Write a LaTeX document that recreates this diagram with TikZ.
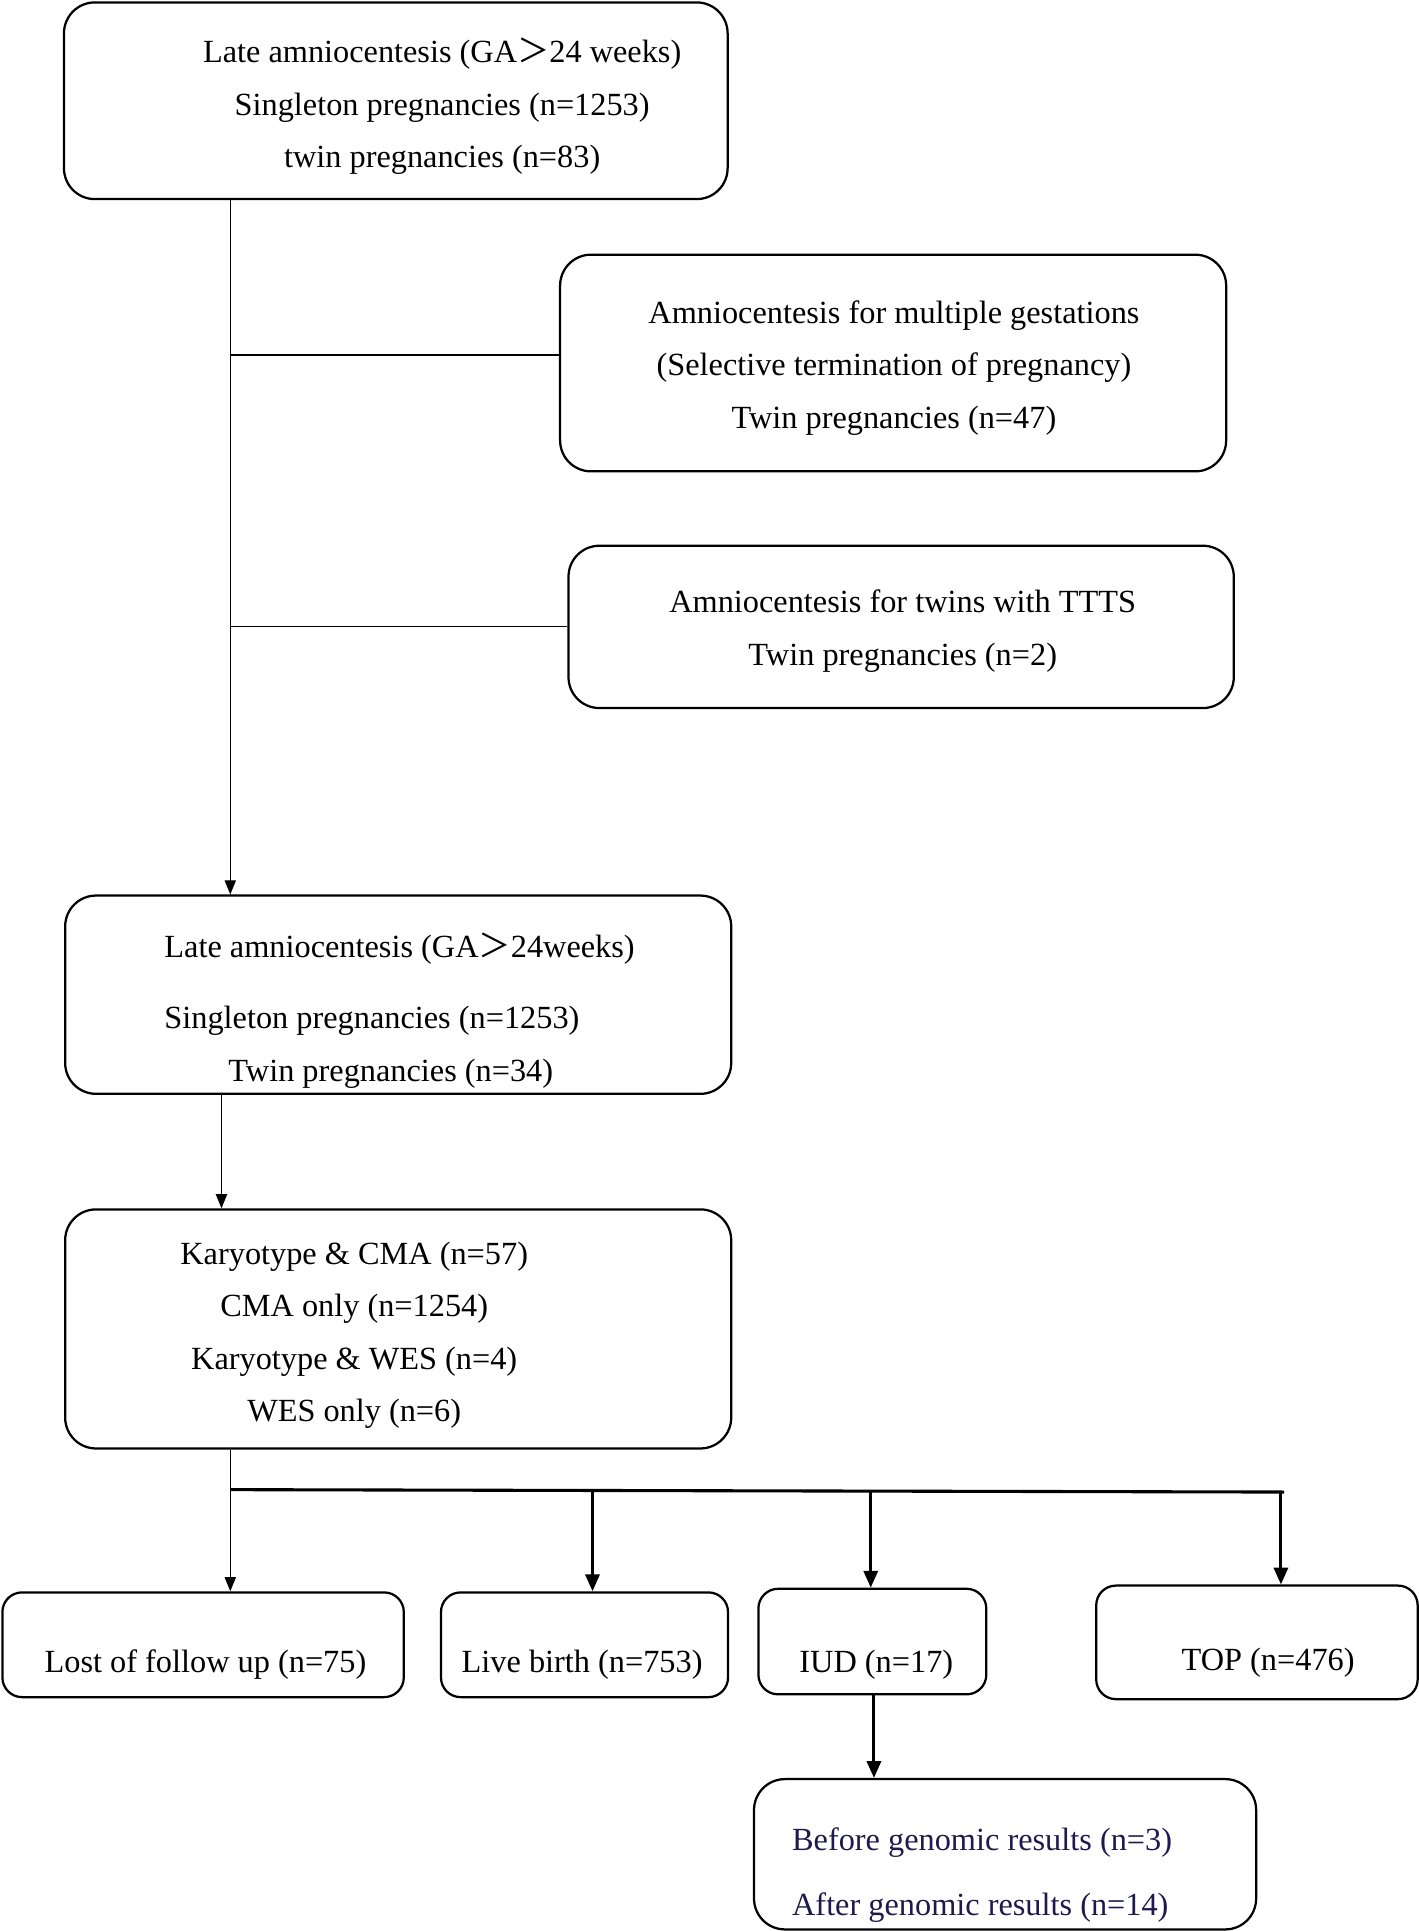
\documentclass[tikz,border=0pt]{standalone}
\usepackage{fontspec}
\setmainfont{Liberation Serif}
\newfontfamily\cjkfont{Noto Sans CJK SC}
\usepackage{tikz}
\usetikzlibrary{arrows.meta}
\definecolor{NavyText}{HTML}{1C1A4E}
\newcommand{\fgt}{{\cjkfont ＞}}
\tikzset{
  base box/.style={
    rectangle, rounded corners=11pt, draw, line width=0.8pt,
    minimum width=#1, inner sep=0pt
  },
  small box/.style={base box=#1, rounded corners=7pt},
  box text/.style={
    align=center, inner sep=0pt,
    font=\fontsize{11.5}{18.7}\selectfont
  },
  line/.style={line width=0.4pt},
  thick line/.style={line width=1.1pt},
  arrow/.style={-{Triangle[length=5pt, width=4pt]}, line width=0.4pt},
  thick arrow/.style={-{Triangle[length=6pt, width=5pt]}, line width=1.1pt},
}

\begin{document}
\begin{tikzpicture}
  \useasboundingbox (0,0) rectangle (17.74,-24.15);

  % screening boxes
  \node[base box=8.30cm, minimum height=2.46cm] (late1) at (4.95,-1.26) {};
  \node[box text] (late1txt) at (5.53,-1.33)
    {Late amniocentesis (GA\fgt24 weeks)\\Singleton pregnancies (n=1253)\\twin pregnancies (n=83)};

  \node[base box=8.33cm, minimum height=2.71cm] (multi) at (11.17,-4.54)
    {};
  \node[box text] (multitxt) at (11.18,-4.60)
    {Amniocentesis for multiple gestations\\(Selective termination of pregnancy)\\Twin pregnancies (n=47)};

  \node[base box=8.32cm, minimum height=2.03cm] (ttts) at (11.27,-7.84) {};
  \node[box text] (tttstxt) at (11.29,-7.89)
    {Amniocentesis for twins with TTTS\\Twin pregnancies (n=2)};

  \node[base box=8.33cm, minimum height=2.48cm] (late2) at (4.98,-12.44) {};
  \node[box text, align=left, anchor=west] (late2txt) at (2.05,-12.64)
    {Late amniocentesis (GA\fgt24weeks)\\[6.6pt]Singleton pregnancies (n=1253)\\\hspace*{0.80cm}Twin pregnancies (n=34)};

  \node[base box=8.33cm, minimum height=2.99cm] (tests) at (4.98,-16.62) {};
  \node[box text] (teststxt) at (4.43,-16.70)
    {Karyotype \& CMA (n=57)\\CMA only (n=1254)\\Karyotype \& WES (n=4)\\WES only (n=6)};

  % outcome boxes
  \node[small box=5.02cm, minimum height=1.31cm] (lost) at (2.54,-20.57) {};
  \node[box text] (losttxt) at (2.57,-20.82) {Lost of follow up (n=75)};

  \node[small box=3.59cm, minimum height=1.31cm] (live) at (7.31,-20.57) {};
  \node[box text] (livetxt) at (7.28,-20.82) {Live birth (n=753)};

  \node[small box=2.85cm, minimum height=1.32cm] (iud) at (10.91,-20.53) {};
  \node[box text] (iudtxt) at (10.96,-20.82) {IUD (n=17)};

  \node[small box=4.02cm, minimum height=1.42cm] (top) at (15.72,-20.54) {};
  \node[box text] (toptxt) at (15.86,-20.79) {TOP (n=476)};

  \node[base box=6.28cm, minimum height=1.88cm] (timing) at (12.57,-23.19) {};
  \node[box text, align=left, anchor=west, text=NavyText,
    font=\fontsize{11.5}{23.2}\selectfont] (timingtxt) at (9.90,-23.45)
    {Before genomic results (n=3)\\After genomic results (n=14)};

  % connectors
  \coordinate (trunk) at (2.88,0);
  \coordinate (j1) at (2.88,-4.44);
  \coordinate (j2) at (2.88,-7.84);
  \coordinate (split) at (2.88,-18.63);
  \coordinate (splitend) at (16.06,-18.66);

  \draw[arrow] (late1.south -| trunk) -- (late2.north -| trunk);
  \draw[line] (j1) -- (j1 -| multi.west);
  \draw[line] (j2) -- (ttts.west);
  \draw[arrow] (late2.south -| 2.77,0) -- (tests.north -| 2.77,0);

  \draw[arrow] (tests.south -| trunk) -- (lost.north -| trunk);
  \draw[thick line] (split) -- (splitend);
  \draw[thick arrow] (split -| 7.41,0) -- (live.north -| 7.41,0);
  \draw[thick arrow] (split -| 10.89,0) -- (iud.north -| 10.89,0);
  \draw[thick arrow] (splitend -| 16.02,0) -- (top.north -| 16.02,0);
  \draw[thick arrow] (iud.south -| 10.93,0) -- (timing.north -| 10.93,0);
\end{tikzpicture}
\end{document}
